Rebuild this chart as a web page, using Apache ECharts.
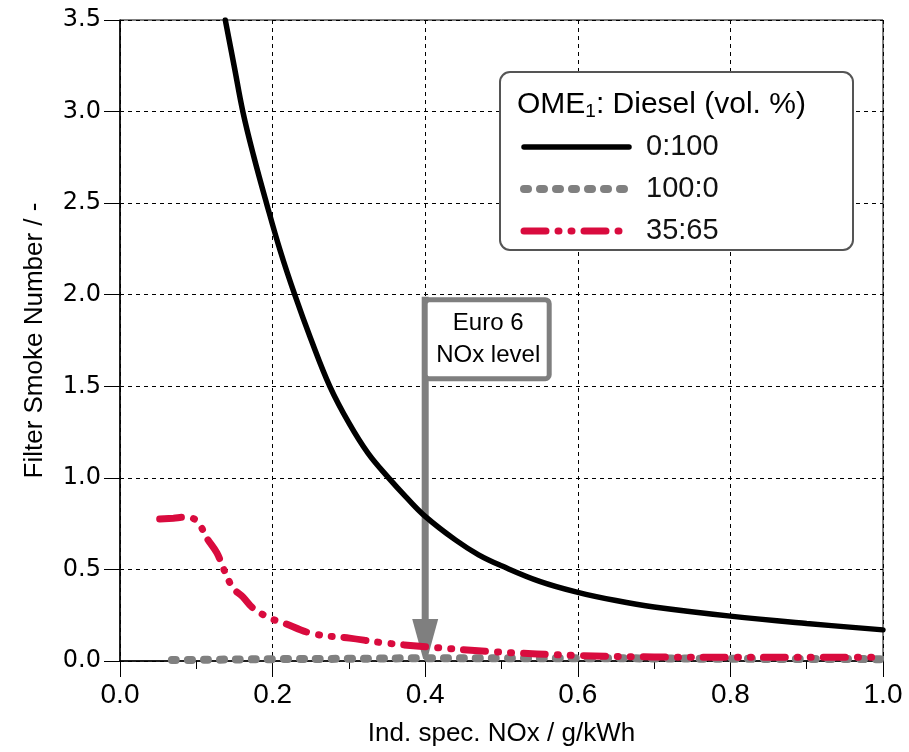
<!DOCTYPE html>
<html>
<head>
<meta charset="utf-8">
<script src="https://cdn.jsdelivr.net/npm/echarts@6/dist/echarts.min.js"></script>
<style>html,body{margin:0;padding:0;background:#fff;}#c{width:909px;height:752px;}</style>
</head>
<body>
<div id="c"></div>
<script>
// ---- data ----
var seriesNames = ['0:100', '100:0', '35:65'];
var legendTitle = 'OME';
var legendTitleSub = '1';
var legendTitleRest = ': Diesel (vol. %)';
var xAxisName = 'Ind. spec. NOx / g/kWh';
var yAxisName = 'Filter Smoke Number / -';
var annotationLines = ['Euro 6', 'NOx level'];
var annotationX = 0.4;
var annotationTopY = 2.0;

var blackX = [0.138, 0.150, 0.161, 0.175, 0.192, 0.210, 0.229, 0.250, 0.275, 0.300, 0.325, 0.352, 0.375, 0.400, 0.440, 0.470, 0.500, 0.550, 0.600, 0.650, 0.700, 0.800, 0.900, 1.000];
var blackY = [3.5, 3.24, 3.0, 2.76, 2.5, 2.24, 2.0, 1.76, 1.5, 1.30, 1.135, 1.0, 0.895, 0.79, 0.66, 0.58, 0.52, 0.435, 0.375, 0.33, 0.295, 0.245, 0.205, 0.17];

var grayX = [0.068, 0.1, 0.2, 0.3, 0.4, 0.5, 0.6, 0.7, 0.8, 0.9, 1.0];
var grayY = [0.005, 0.006, 0.01, 0.012, 0.015, 0.015, 0.015, 0.014, 0.012, 0.011, 0.01];

var redX = [0.052, 0.070, 0.085, 0.095, 0.105, 0.114, 0.127, 0.135, 0.148, 0.161, 0.174, 0.196, 0.213, 0.252, 0.301, 0.344, 0.401, 0.493, 0.600, 0.700, 0.800, 0.900, 1.000];
var redY = [0.775, 0.78, 0.785, 0.78, 0.74, 0.67, 0.59, 0.51, 0.40, 0.35, 0.29, 0.235, 0.21, 0.15, 0.125, 0.10, 0.078, 0.05, 0.03, 0.022, 0.02, 0.02, 0.02];

function zip(a, b) { return a.map(function (v, i) { return [v, b[i]]; }); }

var chart = echarts.init(document.getElementById('c'));
var FONT = 'Liberation Sans, Arial, sans-serif';
var RED = '#d90b3e', GRAY = '#808080';
var styles = [
  { color: '#000', width: 5.5, type: 'solid', cap: 'round' },
  { color: GRAY, width: 8, type: [4, 12], cap: 'round' },
  { color: RED, width: 7, type: [22, 12, 1, 12, 1, 12], cap: 'round' }
];
var option = {
  animation: false,
  backgroundColor: '#fff',
  grid: { left: 120, right: 26, top: 20, bottom: 91, show: true, borderColor: '#000', borderWidth: 1, containLabel: false },
  xAxis: {
    type: 'value', min: 0, max: 1, interval: 0.2,
    name: xAxisName, nameLocation: 'middle', nameGap: 60,
    nameTextStyle: { fontFamily: FONT, fontSize: 26, color: '#000' },
    axisLine: { show: true, lineStyle: { color: '#000', width: 1.5 } },
    axisTick: { show: true, length: 16, lineStyle: { color: '#000' } },
    minorTick: { show: true, splitNumber: 2, length: 8, lineStyle: { color: '#000' } },
    axisLabel: { fontFamily: FONT, fontSize: 28, color: '#000', margin: 20, formatter: function (v) { return v.toFixed(1); } },
    splitLine: { show: true, lineStyle: { color: '#000', type: [4, 4], width: 1 } }
  },
  yAxis: {
    type: 'value', min: 0, max: 3.5, interval: 0.5,
    name: yAxisName, nameLocation: 'middle', nameGap: 72,
    nameTextStyle: { fontFamily: FONT, fontSize: 26, color: '#000' },
    axisLine: { show: true, lineStyle: { color: '#000', width: 1.5 } },
    axisTick: { show: true, length: 16, lineStyle: { color: '#000' } },
    axisLabel: { fontFamily: 'DejaVu Sans, sans-serif', fontSize: 24, color: '#000', margin: 19, formatter: function (v) { return v.toFixed(1); } },
    splitLine: { show: true, lineStyle: { color: '#000', type: [4, 4], width: 1 } }
  },
  legend: {
    orient: 'vertical', left: 515, top: 126,
    itemWidth: 105, itemHeight: 14, itemGap: 10,
    data: seriesNames.map(function (n, i) {
      return { name: n, itemStyle: { opacity: 0, borderWidth: 0 }, lineStyle: styles[i] };
    }),
    textStyle: { fontFamily: FONT, fontSize: 29, color: '#111', lineHeight: 32, padding: [0, 0, 0, 12] },
    z: 10
  },
  series: seriesNames.map(function (n, i) {
    var xs = [blackX, grayX, redX][i], ys = [blackY, grayY, redY][i];
    return {
      name: n, type: 'line', data: zip(xs, ys), smooth: 0.4, showSymbol: false, symbol: 'none',
      lineStyle: styles[i], itemStyle: { color: styles[i].color }, z: [5, 4, 6][i]
    };
  })
};
chart.setOption(option);

// Annotation & legend frame placed via axis conversion
var pTop = chart.convertToPixel({ gridIndex: 0 }, [annotationX, annotationTopY]);
var pBot = chart.convertToPixel({ gridIndex: 0 }, [annotationX, 0]);
var gray = '#7f7f7f';
chart.setOption({
  graphic: [
    { type: 'line', z: 3, shape: { x1: pTop[0], y1: pTop[1] + 2, x2: pBot[0], y2: pBot[1] - 40 }, style: { stroke: gray, lineWidth: 7 } },
    { type: 'polygon', z: 3, shape: { points: [[pBot[0] - 13, pBot[1] - 42], [pBot[0] + 13, pBot[1] - 42], [pBot[0] + 2, pBot[1] - 2], [pBot[0] - 2, pBot[1] - 2]] }, style: { fill: gray } },
    { type: 'rect', z: 3, shape: { x: pTop[0], y: pTop[1] + 5, width: 124, height: 79, r: 4 }, style: { fill: '#fff', stroke: gray, lineWidth: 5 } },
    { type: 'text', z: 4, x: pTop[0] + 63, y: pTop[1] + 45, style: { text: annotationLines.join('\n'), fontFamily: FONT, fontSize: 24, lineHeight: 32, fill: '#000', align: 'center', verticalAlign: 'middle' } },
    { type: 'rect', z: 8, shape: { x: 500, y: 72, width: 353, height: 178, r: 10 }, style: { fill: '#fff', stroke: '#555', lineWidth: 2 } },
    { type: 'text', z: 9, x: 517, y: 105, style: {
        text: '{a|' + legendTitle + '}{s|' + legendTitleSub + '}{a|' + legendTitleRest + '}',
        verticalAlign: 'middle',
        rich: {
          a: { fontFamily: FONT, fontSize: 30, color: '#1a1a2e' },
          s: { fontFamily: FONT, fontSize: 19, color: '#1a1a2e', padding: [14, 0, 0, 0] }
        }
      } }
  ]
});
</script>
</body>
</html>
